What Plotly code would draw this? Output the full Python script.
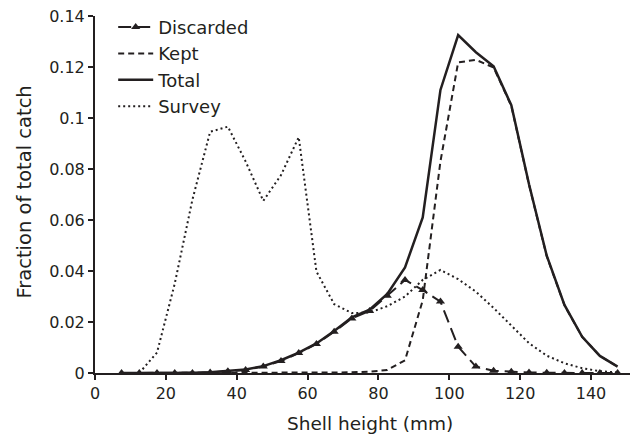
import plotly.graph_objects as go

# Bin centres (shell height, mm)
shell_height = [7.5, 12.5, 17.5, 22.5, 27.5, 32.5, 37.5, 42.5, 47.5, 52.5,
                57.5, 62.5, 67.5, 72.5, 77.5, 82.5, 87.5, 92.5, 97.5, 102.5,
                107.5, 112.5, 117.5, 122.5, 127.5, 132.5, 137.5, 142.5, 147.5]

discarded = [0, 0, 0, 0, 0, 0.0002, 0.0007, 0.0012, 0.0025, 0.0047,
             0.0078, 0.0114, 0.0162, 0.0214, 0.0243, 0.0303, 0.0365, 0.0325, 0.028, 0.0103,
             0.0025, 0.0009, 0.0005, 0.0002, 0.0001, 0, 0, 0, 0]

kept = [0, 0, 0, 0, 0, 0, 0, 0, 0, 0,
        0, 0.0001, 0.0002, 0.0003, 0.0005, 0.0012, 0.005, 0.0285, 0.083, 0.1218,
        0.1228, 0.1198, 0.1048, 0.0738, 0.0458, 0.0266, 0.0142, 0.0067, 0.0025]

total = [0, 0, 0, 0, 0, 0.0003, 0.0008, 0.0014, 0.0027, 0.005,
         0.008, 0.0116, 0.0165, 0.0218, 0.0248, 0.031, 0.0414, 0.061, 0.111, 0.1325,
         0.1258, 0.1203, 0.105, 0.074, 0.046, 0.0267, 0.0142, 0.0067, 0.0025]

survey_height = shell_height[1:]
survey = [0, 0.008, 0.035, 0.068, 0.0946, 0.0966, 0.083, 0.0675, 0.0776,
          0.0925, 0.0398, 0.027, 0.0235, 0.0237, 0.0262, 0.03, 0.0365, 0.0404, 0.0368,
          0.0319, 0.0255, 0.0188, 0.0117, 0.0068, 0.0038, 0.0019, 0.0007, 0.0002]

x_ticks = [0, 20, 40, 60, 80, 100, 120, 140]
y_ticks = [0, 0.02, 0.04, 0.06, 0.08, 0.1, 0.12, 0.14]
y_ticktext = ["0", "0.02", "0.04", "0.06", "0.08", "0.1", "0.12", "0.14"]
x_title = "Shell height (mm)"
y_title = "Fraction of total catch"

INK = "#231f20"
FONT = "DejaVu Sans"

fig = go.Figure()
fig.add_trace(go.Scatter(
    x=shell_height, y=kept, name="Kept", mode="lines",
    line=dict(color=INK, width=2, dash="6px,4px"), legendrank=2, cliponaxis=False))
fig.add_trace(go.Scatter(
    x=survey_height, y=survey, name="Survey", mode="lines",
    line=dict(color=INK, width=2, dash="2px,3px"), legendrank=4, cliponaxis=False))
fig.add_trace(go.Scatter(
    x=shell_height, y=total, name="Total", mode="lines",
    line=dict(color=INK, width=2.5), legendrank=3, cliponaxis=False))
fig.add_trace(go.Scatter(
    x=shell_height, y=discarded, name="Discarded", mode="lines+markers",
    line=dict(color=INK, width=2, dash="13px,6px"),
    marker=dict(symbol="triangle-up", size=8, color=INK),
    legendrank=1, cliponaxis=False))

fig.update_layout(
    width=630, height=437,
    margin=dict(l=95, r=0, t=16, b=64, autoexpand=False),
    paper_bgcolor="white", plot_bgcolor="white",
    font=dict(family=FONT, color=INK, size=16),
    showlegend=True,
    legend=dict(x=0.034, y=1.02, xanchor="left", yanchor="top",
                bgcolor="rgba(0,0,0,0)", font=dict(size=18, family=FONT, color=INK),
                tracegroupgap=0, itemwidth=35),
    xaxis=dict(range=[0, 151], tickvals=x_ticks, showline=True, linecolor=INK,
               linewidth=2, ticks="outside", ticklen=5, tickwidth=1.5, tickcolor=INK,
               showgrid=False, zeroline=False, automargin=False,
               tickfont=dict(size=16, family=FONT, color=INK)),
    yaxis=dict(range=[0, 0.14], tickvals=y_ticks, ticktext=y_ticktext, showline=True,
               linecolor=INK, linewidth=2, ticks="outside", ticklen=5, tickwidth=1.5,
               tickcolor=INK, showgrid=False, zeroline=False, automargin=False,
               tickfont=dict(size=16, family=FONT, color=INK)),
    annotations=[
        dict(text=x_title, xref="paper", yref="paper", x=0.514, y=-0.142,
             xanchor="center", yanchor="middle", showarrow=False,
             font=dict(size=18.5, family=FONT, color=INK)),
        dict(text=y_title, xref="paper", yref="paper", x=-0.1327, y=0.5056,
             xanchor="center", yanchor="middle", showarrow=False, textangle=-90,
             font=dict(size=19.5, family=FONT, color=INK)),
    ],
)

fig.write_html("out.html", config={"displayModeBar": False},
               post_script="document.body.style.margin='0';document.body.style.overflow='hidden';")
